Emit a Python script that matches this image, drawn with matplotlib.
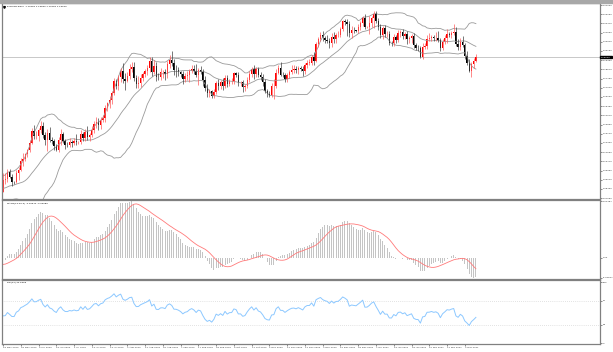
import numpy as np
import pandas as pd
import matplotlib
matplotlib.use("Agg")
import matplotlib.pyplot as plt
from matplotlib.patches import Rectangle
from matplotlib.transforms import blended_transform_factory

# EURUSD daily closes before the visible window (only warms up the indicators)
pre_close = [1.0962, 1.0857, 1.0803, 1.0793, 1.0891, 1.0856, 1.0935, 1.0937, 1.0913, 1.0986,
             1.0906, 1.0838, 1.0875, 1.0862, 1.0856, 1.0824, 1.0775, 1.0822, 1.0827, 1.0823,
             1.0875, 1.0954, 1.0982, 1.0910, 1.0838, 1.0796, 1.0833, 1.0842, 1.0808, 1.0850,
             1.0815, 1.0804, 1.0819]

# visible bars, 18 May 2020 .. 11 Mar 2021
close = [
    1.0920, 1.0924, 1.0984, 1.0946, 1.0900, 1.0899, 1.0978, 1.1005, 1.1077, 1.1101,  # may
    1.1136, 1.1171, 1.1236, 1.1335, 1.1290, 1.1294, 1.1341, 1.1374, 1.1298, 1.1256,
    1.1319, 1.1262, 1.1246, 1.1204, 1.1177, 1.1257, 1.1307, 1.1252, 1.1220, 1.1218,
    1.1239, 1.1232,  # jun
    1.1250, 1.1238, 1.1244, 1.1309, 1.1274, 1.1330, 1.1287, 1.1300, 1.1343, 1.1398,
    1.1411, 1.1382, 1.1428, 1.1443, 1.1526, 1.1569, 1.1595, 1.1657, 1.1755, 1.1717,
    1.1792, 1.1846, 1.1778,  # jul
    1.1761, 1.1799, 1.1863, 1.1877, 1.1787, 1.1735, 1.1738, 1.1785, 1.1814, 1.1842,
    1.1870, 1.1932, 1.1837, 1.1888, 1.1796, 1.1792, 1.1832, 1.1833, 1.1820, 1.1903,
    1.1936,  # aug
    1.1913, 1.1853, 1.1851, 1.1837, 1.1815, 1.1778, 1.1803, 1.1813, 1.1845, 1.1864,
    1.1846, 1.1812, 1.1848, 1.1837, 1.1771, 1.1702, 1.1657, 1.1671, 1.1631, 1.1667,
    1.1742, 1.1719,  # sep
    1.1746, 1.1716, 1.1781, 1.1735, 1.1759, 1.1761, 1.1823, 1.1813, 1.1746, 1.1747,
    1.1706, 1.1717, 1.1770, 1.1820, 1.1862, 1.1816, 1.1860, 1.1811, 1.1795, 1.1746,
    1.1674, 1.1647,  # oct
    1.1640, 1.1715, 1.1720, 1.1829, 1.1873, 1.1813, 1.1812, 1.1778, 1.1808, 1.1835,
    1.1856, 1.1860, 1.1850, 1.1870, 1.1857, 1.1842, 1.1892, 1.1915, 1.1915, 1.1962,
    1.1928,  # nov
    1.2073, 1.2114, 1.2145, 1.2121, 1.2109, 1.2102, 1.2079, 1.2133, 1.2111, 1.2148,
    1.2151, 1.2198, 1.2268, 1.2256, 1.2239, 1.2167, 1.2191, 1.2187, 1.2182, 1.2214,
    1.2249, 1.2297, 1.2216,  # dec
    1.2218, 1.2249, 1.2297, 1.2325, 1.2271, 1.2219, 1.2151, 1.2207, 1.2154, 1.2155,
    1.2080, 1.2079, 1.2132, 1.2108, 1.2164, 1.2170, 1.2142, 1.2158, 1.2111, 1.2124,
    1.2137,  # jan
    1.2061, 1.2040, 1.2036, 1.1963, 1.2046, 1.2052, 1.2118, 1.2120, 1.2131, 1.2119,
    1.2126, 1.2107, 1.2040, 1.2093, 1.2121, 1.2156, 1.2151, 1.2166, 1.2175, 1.2074,  # feb
    1.2049, 1.2090, 1.2063, 1.1967, 1.1915, 1.1846, 1.1899, 1.1928, 1.1962,  # mar
]

# wick lengths in pips above / below the candle body
up_wick = [
    56, 51, 25, 30, 20, 12, 28, 26, 30, 45,
    10, 14, 22, 28, 49, 40, 20, 48, 36, 30, 29, 50, 22, 20, 20, 26, 42, 20, 16, 18, 38, 16,
    25, 60, 10, 30, 15, 24, 50, 20, 32, 22, 40, 30, 28, 25, 30, 14, 36, 21, 26, 20, 15, 20, 63,
    45, 33, 43, 39, 42, 24, 65, 29, 20, 20, 25, 34, 28, 50, 30, 29, 35, 20, 30, 22, 40,
    75, 30, 40, 30, 10, 25, 20, 30, 15, 30, 30, 60, 20, 40, 25, 30, 30, 20, 15, 20, 20, 30,
    20, 40, 25, 30, 20, 20, 12, 15, 20, 15, 22, 20, 25, 20, 18, 30, 20, 20, 25, 20, 30, 20,
    30, 30, 55, 30, 20, 47, 20, 15, 20, 20, 35, 34, 30, 20, 20, 25, 15, 20, 30, 20, 40,
    20, 20, 30, 35, 20, 40, 20, 30, 40, 20, 30, 20, 5, 20, 30, 25, 30, 25, 5, 30, 20, 12, 30,
    5, 60, 10, 24, 30, 25, 20, 15, 30, 30, 30, 20, 25, 20, 30, 20, 30, 20, 25, 20, 20,
    30, 20, 20, 20, 35, 25, 30, 45, 20, 20, 50, 60, 20, 20, 30, 40, 20, 20, 68, 40,
    40, 30, 50, 20, 50, 30, 20, 25, 24,
]
dn_wick = [
    5, 37, 20, 13, 32, 14, 5, 60, 12, 35,
    20, 18, 15, 13, 19, 20, 40, 22, 20, 41, 90, 22, 25, 30, 10, 20, 40, 18, 40, 22, 15, 30,
    20, 20, 15, 20, 25, 20, 30, 40, 20, 25, 40, 35, 30, 20, 30, 22, 42, 28, 15, 30, 38, 40, 40,
    75, 15, 26, 30, 30, 32, 39, 30, 30, 20, 30, 35, 40, 22, 40, 25, 25, 50, 50, 35, 30,
    30, 45, 60, 40, 20, 45, 30, 40, 60, 22, 30, 20, 85, 20, 55, 30, 30, 30, 19, 20, 20, 40,
    30, 30, 20, 30, 20, 30, 25, 20, 30, 30, 40, 30, 20, 20, 25, 40, 20, 20, 30, 30, 20, 25,
    20, 20, 112, 20, 15, 15, 20, 30, 30, 20, 20, 30, 20, 30, 15, 40, 20, 20, 20, 20, 30,
    10, 25, 20, 20, 30, 20, 40, 35, 30, 30, 20, 20, 15, 20, 100, 35, 40, 25, 5, 20, 20, 20, 20,
    5, 60, 30, 90, 20, 30, 30, 35, 20, 25, 20, 25, 20, 30, 20, 30, 30, 25, 40, 30, 40,
    20, 20, 25, 11, 20, 20, 20, 20, 20, 20, 20, 20, 30, 20, 20, 40, 20, 30, 20, 20,
    30, 30, 20, 20, 20, 10, 50, 30, 10,
]

date_labels = ["18 May 2020", "28 May 2020", "9 Jun 2020", "19 Jun 2020", "1 Jul 2020",
               "13 Jul 2020", "23 Jul 2020", "4 Aug 2020", "14 Aug 2020", "26 Aug 2020",
               "7 Sep 2020", "17 Sep 2020", "29 Sep 2020", "9 Oct 2020", "21 Oct 2020",
               "2 Nov 2020", "12 Nov 2020", "24 Nov 2020", "4 Dec 2020", "16 Dec 2020",
               "28 Dec 2020", "7 Jan 2021", "19 Jan 2021", "29 Jan 2021", "10 Feb 2021",
               "22 Feb 2021", "4 Mar 2021"]
label_step = 8

# ---- indicators (same settings as the terminal: BB 20/2, MACD 12/26/9, RSI 14)
s = pd.Series(pre_close + close)
n_pre = len(pre_close)
mid = s.rolling(20).mean()
sd = s.rolling(20).std(ddof=0)
bb_up = (mid + 2 * sd)[n_pre:].values
bb_mid = mid[n_pre:].values
bb_lo = (mid - 2 * sd)[n_pre:].values
macd = s.ewm(span=12, adjust=False).mean() - s.ewm(span=26, adjust=False).mean()
sig = macd.rolling(9).mean()
macd = macd[n_pre:].values
sig = sig[n_pre:].values
d = s.diff()
gain = d.clip(lower=0).ewm(alpha=1 / 14, adjust=False).mean()
loss = (-d.clip(upper=0)).ewm(alpha=1 / 14, adjust=False).mean()
rsi = (100 - 100 / (1 + gain / loss))[n_pre:].values

c = np.array(close)
o = np.r_[pre_close[-1], c[:-1]]
hi = np.maximum(o, c) + np.array(up_wick) / 10000
lo = np.minimum(o, c) - np.array(dn_wick) / 10000
x = np.arange(len(c))
bull = c >= o

FS = 1.75
edge = "#808080"
fig = plt.figure(figsize=(6.13, 3.52), dpi=100)
fig.patches.append(Rectangle((0, 1 - 3 / 352), 1, 3 / 352, transform=fig.transFigure,
                             color="#a8a8a8", zorder=0))
L, W = 2 / 613, 598 / 613
ax1 = fig.add_axes([L, 1 - 199 / 352, W, 196 / 352])
ax2 = fig.add_axes([L, 1 - 279 / 352, W, 79 / 352])
ax3 = fig.add_axes([L, 1 - 344 / 352, W, 64 / 352])

x0, x1 = -0.45, 268.9
for ax in (ax1, ax2, ax3):
    ax.set_xlim(x0, x1)
    for sp in ax.spines.values():
        sp.set_color(edge)
        sp.set_linewidth(0.9)
    ax.yaxis.tick_right()
    ax.tick_params(axis="y", labelsize=FS, length=1.2, width=0.4, pad=0.8,
                   colors="#333333")
    ax.tick_params(axis="x", length=0)
    ax.set_xticks([])

# ---- price panel
ax1.set_ylim(1.0758, 1.2420)
ax1.plot(x, bb_up, color="#9a9a9a", lw=0.6)
ax1.plot(x, bb_mid, color="#9a9a9a", lw=0.6)
ax1.plot(x, bb_lo, color="#9a9a9a", lw=0.6)
ax1.vlines(x, lo, hi, colors=np.where(bull, "#ff5a5a", "#404040"), lw=0.5)
ax1.bar(x, np.maximum(np.abs(c - o), 0.00015), bottom=np.minimum(o, c), width=0.62,
        color=np.where(bull, "#ff0000", "#000000"), lw=0)
ax1.axhline(c[-1], color="#c8c8c8", lw=0.7, zorder=0)
price_ticks = np.round(1.0765 + 0.0078 * np.arange(22), 5)
ax1.set_yticks(price_ticks)
ax1.set_yticklabels(["%.5f" % v for v in price_ticks])
tr = blended_transform_factory(ax1.transAxes, ax1.transData)
ax1.text(1.002, c[-1], "%.5f" % c[-1], transform=tr, fontsize=FS, color="white",
         va="center", ha="left", zorder=5,
         bbox=dict(boxstyle="square,pad=0.3", fc="black", ec="black"))
ax1.text(0.008, 0.985, "EURUSD,Daily  %.5f %.5f %.5f %.5f" % (o[-1], hi[-1], lo[-1], c[-1]),
         transform=ax1.transAxes, fontsize=FS, va="top", ha="left")
ax1.plot([0.004], [0.978], marker="v", ms=1.3, color="black", transform=ax1.transAxes)

# ---- MACD panel
vmin = min(macd.min(), np.nanmin(sig))
vmax = max(macd.max(), np.nanmax(sig))
pad = (vmax - vmin) * 0.015
ax2.set_ylim(vmin - pad, vmax + pad)
ax2.bar(x, macd, width=0.45, color="#c4c4c4", lw=0)
ax2.plot(x, sig, color="#ff7a7a", lw=0.6)
ax2.set_yticks([vmax, 0, vmin])
ax2.set_yticklabels(["%.5f" % vmax, "0.00", "%.5f" % vmin])
ax2.text(0.008, 0.975, "MACD(12,26,9) %.5f %.5f" % (macd[-1], sig[-1]),
         transform=ax2.transAxes, fontsize=FS, va="top", ha="left")

# ---- RSI panel
ax3.set_ylim(-1.3, 104.1)
ax3.axhline(70, color="#c8c8c8", lw=0.5, ls=(0, (1, 2)))
ax3.axhline(30, color="#c8c8c8", lw=0.5, ls=(0, (1, 2)))
ax3.plot(x, rsi, color="#8cc8ff", lw=0.7)
ax3.set_yticks([0, 30, 70, 100])
ax3.set_yticklabels(["0", "30", "70", "100"])
ax3.text(0.008, 0.97, "RSI(14) %.4f" % rsi[-1], transform=ax3.transAxes, fontsize=FS,
         va="top", ha="left")
ax3.set_xticks(np.arange(len(date_labels)) * label_step)
ax3.set_xticklabels(date_labels, ha="left")
ax3.tick_params(axis="x", length=1.5, width=0.4, labelsize=FS, pad=0.8, colors="#333333")

fig.savefig("out.png", dpi=100)
